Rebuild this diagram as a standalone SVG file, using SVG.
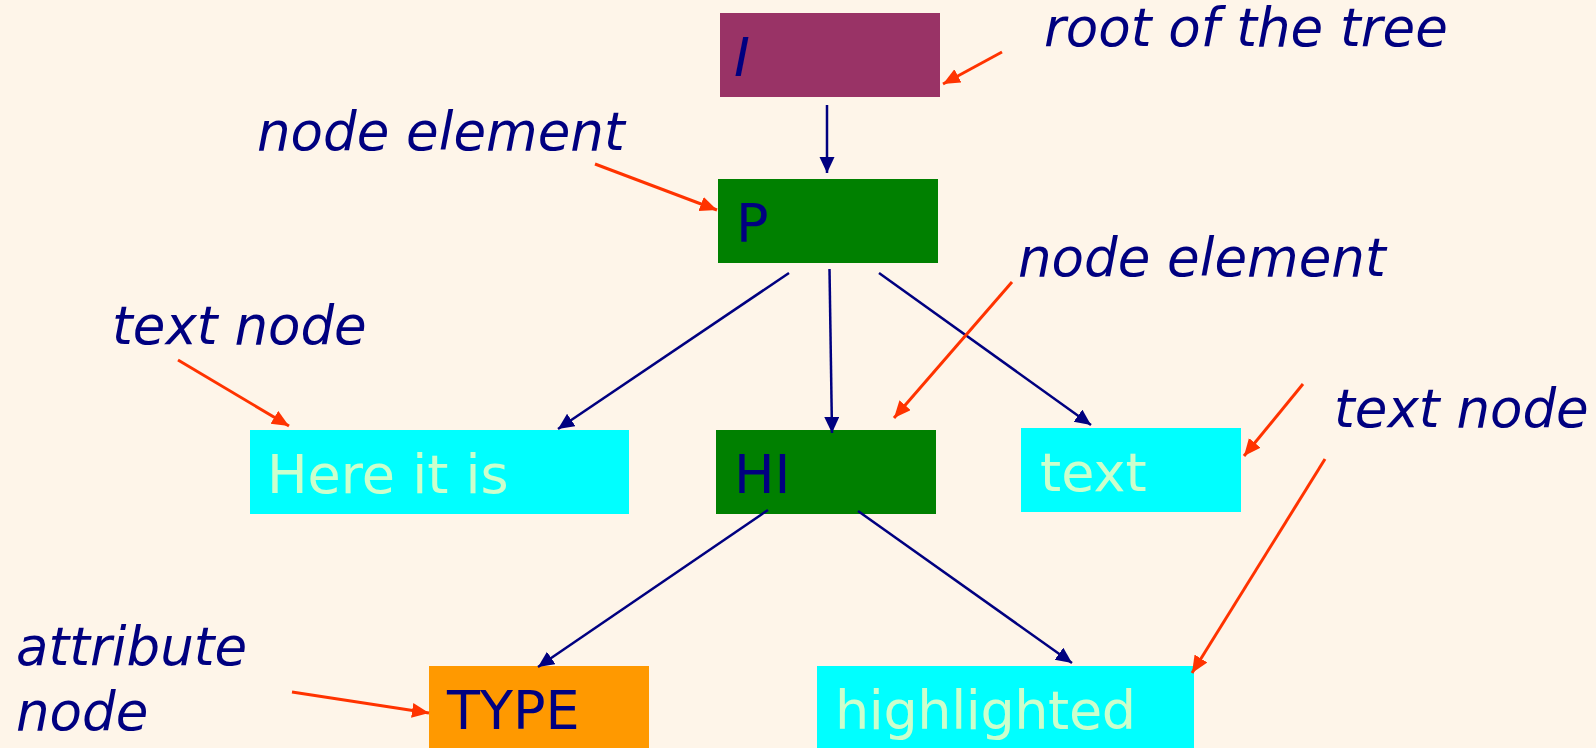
<svg xmlns="http://www.w3.org/2000/svg" width="1596" height="748" viewBox="0 0 1596 748">
  <style>
    .nodetext { font-family: "DejaVu Sans", Verdana, sans-serif; font-size: 54px; }
    .dark { fill: #000080; }
    .light { fill: #CCFFCC; }
    .label { font-family: "DejaVu Sans", Verdana, sans-serif; font-size: 53px; font-style: italic; fill: #000080; }
    .tree { stroke: #000080; stroke-width: 2.5; fill: none; marker-end: url(#headNavy); }
    .note { stroke: #FF3300; stroke-width: 3; fill: none; marker-end: url(#headRed); }
  </style>
  <defs>
    <marker id="headNavy" markerUnits="userSpaceOnUse" markerWidth="17" markerHeight="16" refX="16" refY="7.5" orient="auto">
      <path d="M0,0 L16,7.5 L0,15 z" fill="#000080"/>
    </marker>
    <marker id="headRed" markerUnits="userSpaceOnUse" markerWidth="18" markerHeight="16" refX="17" refY="7.5" orient="auto">
      <path d="M0,0 L17,7.5 L0,15 z" fill="#FF3300"/>
    </marker>
  </defs>

  <rect width="1596" height="748" fill="#FEF5E9"/>

  <!-- tree nodes -->
  <g id="node-I">
    <rect x="720" y="13" width="220" height="84" fill="#993366"/>
    <text class="nodetext dark" x="734" y="76" font-style="italic">I</text>
  </g>
  <g id="node-P">
    <rect x="718" y="179" width="220" height="84" fill="#008000"/>
    <text class="nodetext dark" x="736" y="242">P</text>
  </g>
  <g id="node-here">
    <rect x="250" y="430" width="379" height="84" fill="#00FFFF"/>
    <text class="nodetext light" x="267" y="493">Here it is</text>
  </g>
  <g id="node-HI">
    <rect x="716" y="430" width="220" height="84" fill="#008000"/>
    <text class="nodetext dark" x="734" y="493">HI</text>
  </g>
  <g id="node-text">
    <rect x="1021" y="428" width="220" height="84" fill="#00FFFF"/>
    <text class="nodetext light" x="1040" y="491">text</text>
  </g>
  <g id="node-TYPE">
    <rect x="429" y="666" width="220" height="84" fill="#FF9900"/>
    <text class="nodetext dark" x="447" y="729">TYPE</text>
  </g>
  <g id="node-highlighted">
    <rect x="817" y="666" width="377" height="84" fill="#00FFFF"/>
    <text class="nodetext light" x="835" y="729" textLength="301" lengthAdjust="spacing">highlighted</text>
  </g>

  <!-- annotations -->
  <g id="labels">
    <text class="label" x="1044" y="46">root of the tree</text>
    <text class="label" x="257" y="150">node element</text>
    <text class="label" x="112" y="344">text node</text>
    <text class="label" x="1018" y="276">node element</text>
    <text class="label" x="1334" y="427">text node</text>
    <text class="label" x="16" y="665">attribute</text>
    <text class="label" x="16" y="730">node</text>
  </g>

  <!-- connectors -->
  <g id="connectors">
    <line class="tree" x1="827" y1="105" x2="827" y2="173"/>
    <line class="tree" x1="789" y1="273" x2="558" y2="429"/>
    <line class="tree" x1="829.5" y1="269" x2="832" y2="433"/>
    <line class="tree" x1="879" y1="273" x2="1091" y2="425"/>
    <line class="tree" x1="768" y1="510" x2="538" y2="667"/>
    <line class="tree" x1="858" y1="511" x2="1072" y2="663"/>

    <line class="note" x1="1002" y1="52" x2="943" y2="84"/>
    <line class="note" x1="595" y1="164" x2="717" y2="210"/>
    <line class="note" x1="178" y1="360" x2="289" y2="426"/>
    <line class="note" x1="1012" y1="282" x2="894" y2="418"/>
    <line class="note" x1="1303" y1="384" x2="1244" y2="456"/>
    <line class="note" x1="1325" y1="459" x2="1192" y2="673"/>
    <line class="note" x1="292" y1="692" x2="429" y2="713"/>
  </g>
</svg>
